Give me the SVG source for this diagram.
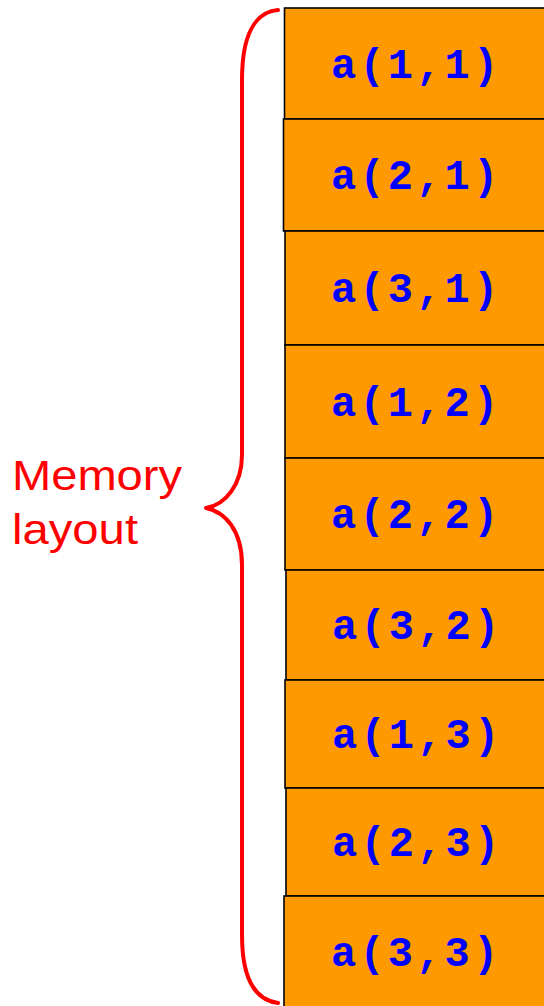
<svg xmlns="http://www.w3.org/2000/svg" width="544" height="1006" viewBox="0 0 544 1006">
<style>
.cell{fill:#FF9900;stroke:#000;stroke-width:1.6}
.lbl{font-family:"Liberation Mono","Courier New",monospace;font-weight:bold;font-size:42px;fill:#0000FF;letter-spacing:3.2px}
.brace{fill:none;stroke:#FF0000;stroke-width:4;stroke-linecap:round;stroke-linejoin:round}
.mem{font-family:"Liberation Sans",Arial,sans-serif;font-size:42px;fill:#FF0000}
</style>
<rect width="544" height="1006" fill="#fff"/>
<g id="brace"><path class="brace" d="M278,10 C255,12 242,35 242,80 L242,455 C242,485 225,505 206,508 C225,512 242,530 242,565 L242,935 C242,980 255,1000 278,1003"/></g>
<g id="label"><text class="mem" x="12" y="490" textLength="170" lengthAdjust="spacingAndGlyphs">Memory</text><text class="mem" x="12" y="544" textLength="126" lengthAdjust="spacingAndGlyphs">layout</text></g>
<g id="n11"><rect class="cell" x="284.5" y="8" width="270" height="111"/><text class="lbl" x="331" y="77.5">a(1,1)</text></g>
<g id="n21"><rect class="cell" x="283.5" y="119" width="270" height="112"/><text class="lbl" x="331" y="189">a(2,1)</text></g>
<g id="n31"><rect class="cell" x="285" y="231" width="270" height="114"/><text class="lbl" x="331" y="302">a(3,1)</text></g>
<g id="n12"><rect class="cell" x="285" y="345" width="270" height="113"/><text class="lbl" x="331" y="415.5">a(1,2)</text></g>
<g id="n22"><rect class="cell" x="285" y="458" width="270" height="112"/><text class="lbl" x="331" y="528">a(2,2)</text></g>
<g id="n32"><rect class="cell" x="286" y="570" width="270" height="110"/><text class="lbl" x="332" y="639">a(3,2)</text></g>
<g id="n13"><rect class="cell" x="285" y="680" width="270" height="108"/><text class="lbl" x="332" y="748">a(1,3)</text></g>
<g id="n23"><rect class="cell" x="286" y="788" width="270" height="108"/><text class="lbl" x="332" y="856">a(2,3)</text></g>
<g id="n33"><rect class="cell" x="284" y="896" width="270" height="120"/><text class="lbl" x="331" y="965.5">a(3,3)</text></g>
</svg>
